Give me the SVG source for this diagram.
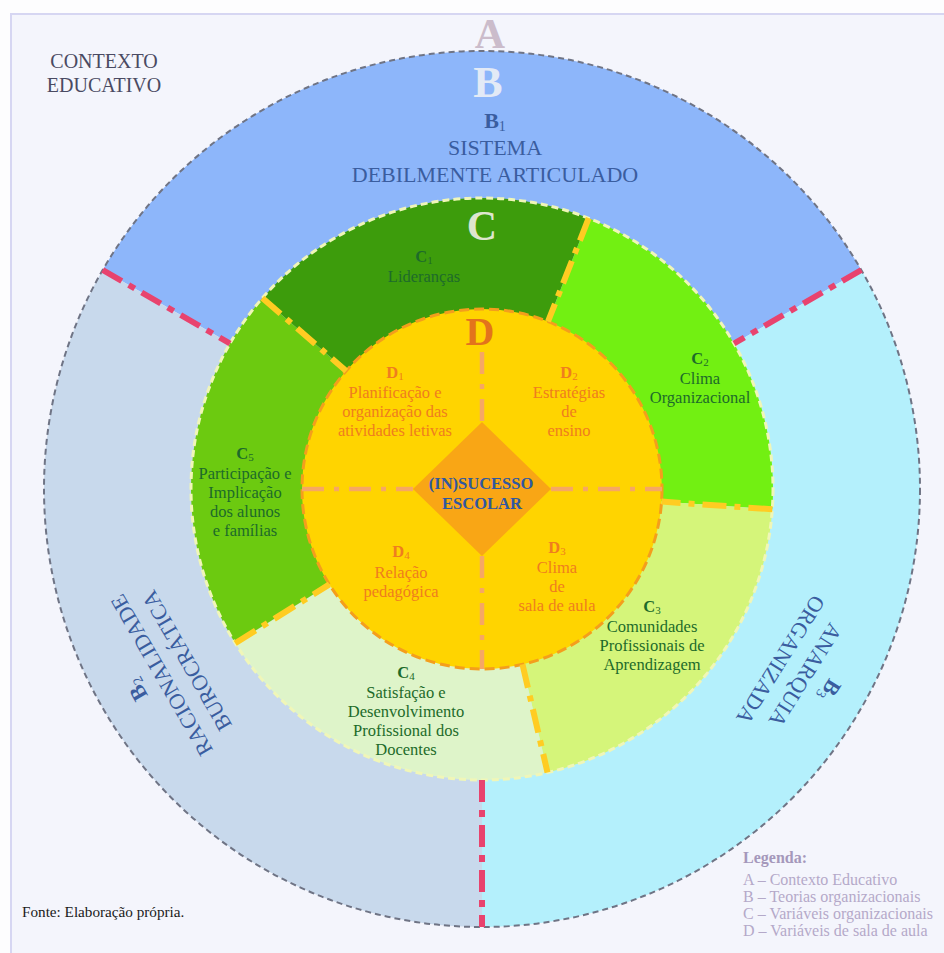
<svg xmlns="http://www.w3.org/2000/svg" width="944" height="953" viewBox="0 0 944 953">
  <style>
    text { font-family: "Liberation Serif", "Times New Roman", serif; }
    .mid { text-anchor: middle; }
    .b { font-weight: bold; }
    .big { font-weight: bold; text-anchor: middle; }
    .tb { fill: #3a5d9f; font-size: 22px; text-anchor: middle; }
    .tc { fill: #1d6b2a; font-size: 16.5px; text-anchor: middle; }
    .td { fill: #ef7d1f; font-size: 16.5px; text-anchor: middle; }
    .sub { font-size: 11px; }
    .subb { font-size: 14px; }
    .div-b { stroke: #e8436e; stroke-width: 6; stroke-dasharray: 22 8 7 8; fill: none; }
    .div-c { stroke: #ffcc22; stroke-width: 6; stroke-dasharray: 24 8 6 8; fill: none; }
    .div-d { stroke: #f6a764; stroke-width: 4.5; stroke-dasharray: 22 10 5 10; fill: none; }
    .legend { fill: #b4a9c9; font-size: 16px; }
  </style>

  <!-- page background and frame -->
  <rect x="0" y="0" width="944" height="953" fill="#fdfdfe"/>
  <g id="contexto-educativo">
    <rect x="11" y="14" width="945" height="950" fill="#f4f5fc" stroke="#d6d6f2" stroke-width="2"/>
    <text x="104" y="68" class="mid" fill="#4a4a62" font-size="20">CONTEXTO</text>
    <text x="104" y="92" class="mid" fill="#4a4a62" font-size="20">EDUCATIVO</text>
  </g>

  <!-- B ring: organisational theories -->
  <g id="B1">
    <path d="M482,489 L102.7,270 A438,438 0 0 1 861.3,270 Z" fill="#8db6fa"/>
    <text x="495" y="128" class="tb"><tspan class="b">B</tspan><tspan class="subb" dy="3">1</tspan></text>
    <text x="495" y="155" class="tb">SISTEMA</text>
    <text x="495" y="182" class="tb">DEBILMENTE ARTICULADO</text>
  </g>
  <g id="B3">
    <path d="M482,489 L861.3,270 A438,438 0 0 1 482,927 Z" fill="#b4f0fc"/>
    <g transform="translate(805,675) rotate(122)">
      <text x="0" y="-22" class="tb"><tspan class="b">B</tspan><tspan class="subb" dy="3">3</tspan></text>
      <text x="0" y="7" class="tb">ANARQUIA</text>
      <text x="0" y="36" class="tb">ORGANIZADA</text>
    </g>
  </g>
  <g id="B2">
    <path d="M482,489 L482,927 A438,438 0 0 1 102.7,270 Z" fill="#c8d9ec"/>
    <g transform="translate(162,675) rotate(-120)">
      <text x="0" y="-22" class="tb"><tspan class="b">B</tspan><tspan class="subb" dy="3">2</tspan></text>
      <text x="0" y="7" class="tb">RACIONALIDADE</text>
      <text x="0" y="36" class="tb">BUROCRÁTICA</text>
    </g>
  </g>
  <circle cx="482" cy="489" r="438" fill="none" stroke="#6f7485" stroke-width="2" stroke-dasharray="6 4"/>

  <!-- C ring: organisational variables -->
  <g id="C1">
    <path d="M482,489 L262.4,298.1 A291,291 0 0 1 588.7,218.2 Z" fill="#3d9c0c"/>
    <text x="424" y="262" class="tc"><tspan class="b">C</tspan><tspan class="sub" dy="2">1</tspan></text>
    <text x="424" y="282" class="tc">Lideranças</text>
  </g>
  <g id="C2">
    <path d="M482,489 L588.7,218.2 A291,291 0 0 1 772.3,509.3 Z" fill="#72f012"/>
    <text x="700" y="364" class="tc"><tspan class="b">C</tspan><tspan class="sub" dy="2">2</tspan></text>
    <text x="700" y="384" class="tc">Clima</text>
    <text x="700" y="403" class="tc">Organizacional</text>
  </g>
  <g id="C3">
    <path d="M482,489 L772.3,509.3 A291,291 0 0 1 547.5,772.5 Z" fill="#d5f57a"/>
    <text x="652" y="612" class="tc"><tspan class="b">C</tspan><tspan class="sub" dy="2">3</tspan></text>
    <text x="652" y="632" class="tc">Comunidades</text>
    <text x="652" y="651" class="tc">Profissionais de</text>
    <text x="652" y="670" class="tc">Aprendizagem</text>
  </g>
  <g id="C4">
    <path d="M482,489 L547.5,772.5 A291,291 0 0 1 235.2,643.2 Z" fill="#def4c9"/>
    <text x="406" y="678" class="tc"><tspan class="b">C</tspan><tspan class="sub" dy="2">4</tspan></text>
    <text x="406" y="698" class="tc">Satisfação e</text>
    <text x="406" y="717" class="tc">Desenvolvimento</text>
    <text x="406" y="736" class="tc">Profissional dos</text>
    <text x="406" y="755" class="tc">Docentes</text>
  </g>
  <g id="C5">
    <path d="M482,489 L235.2,643.2 A291,291 0 0 1 262.4,298.1 Z" fill="#6cca10"/>
    <text x="245" y="459" class="tc"><tspan class="b">C</tspan><tspan class="sub" dy="2">5</tspan></text>
    <text x="245" y="479" class="tc">Participação e</text>
    <text x="245" y="498" class="tc">Implicação</text>
    <text x="245" y="517" class="tc">dos alunos</text>
    <text x="245" y="536" class="tc">e famílias</text>
  </g>
  <circle cx="482" cy="489" r="291" fill="none" stroke="#f0f6b8" stroke-width="3" stroke-dasharray="7 4"/>

  <!-- D circle: classroom variables -->
  <g id="D">
    <circle cx="482" cy="489" r="180" fill="#ffd400" stroke="#f49e1c" stroke-width="3" stroke-dasharray="10 5"/>
  </g>
  <g id="D1">
    <text x="395" y="378" class="td"><tspan class="b">D</tspan><tspan class="sub" dy="2">1</tspan></text>
    <text x="395" y="398" class="td">Planificação e</text>
    <text x="395" y="417" class="td">organização das</text>
    <text x="395" y="436" class="td">atividades letivas</text>
  </g>
  <g id="D2">
    <text x="569" y="378" class="td"><tspan class="b">D</tspan><tspan class="sub" dy="2">2</tspan></text>
    <text x="569" y="398" class="td">Estratégias</text>
    <text x="569" y="417" class="td">de</text>
    <text x="569" y="436" class="td">ensino</text>
  </g>
  <g id="D3">
    <text x="557" y="553" class="td"><tspan class="b">D</tspan><tspan class="sub" dy="2">3</tspan></text>
    <text x="557" y="573" class="td">Clima</text>
    <text x="557" y="592" class="td">de</text>
    <text x="557" y="611" class="td">sala de aula</text>
  </g>
  <g id="D4">
    <text x="401" y="557" class="td"><tspan class="b">D</tspan><tspan class="sub" dy="2">4</tspan></text>
    <text x="401" y="578" class="td">Relação</text>
    <text x="401" y="597" class="td">pedagógica</text>
  </g>

  <!-- layer letters -->
  <g id="layer-letters">
    <text x="490" y="48" class="big" font-size="42" fill="#cbbccb">A</text>
    <text x="488" y="97" class="big" font-size="44" fill="#e3eaf6">B</text>
    <text x="482" y="240" class="big" font-size="42" fill="#dde6cf">C</text>
    <text x="480" y="345" class="big" font-size="40" fill="#e3731c">D</text>
  </g>

  <!-- dividers between sectors -->
  <g id="connectors">
    <line class="div-b" x1="102.7" y1="270" x2="230" y2="343.5"/>
    <line class="div-b" x1="861.3" y1="270" x2="734" y2="343.5"/>
    <line class="div-b" x1="482" y1="780" x2="482" y2="927"/>
    <line class="div-c" x1="262.4" y1="298.1" x2="346.2" y2="370.9"/>
    <line class="div-c" x1="588.7" y1="218.2" x2="548" y2="321.5"/>
    <line class="div-c" x1="772.3" y1="509.3" x2="661.6" y2="501.6"/>
    <line class="div-c" x1="522.5" y1="664.4" x2="547.5" y2="772.5"/>
    <line class="div-c" x1="235.2" y1="643.2" x2="329.4" y2="584.4"/>
    <line class="div-d" x1="302" y1="489" x2="413" y2="489"/>
    <line class="div-d" x1="551" y1="489" x2="662" y2="489"/>
    <line class="div-d" x1="482" y1="352" x2="482" y2="422"/>
    <line class="div-d" x1="482" y1="556" x2="482" y2="669"/>
  </g>

  <!-- centre: school (in)success -->
  <g id="insucesso-escolar">
    <polygon points="482,422 551,489 482,556 413,489" fill="#f9a615"/>
    <text x="481" y="489" class="mid b" fill="#3058a0" font-size="16.5">(IN)SUCESSO</text>
    <text x="482" y="509" class="mid b" fill="#3058a0" font-size="16.5">ESCOLAR</text>
  </g>

  <!-- source and legend -->
  <g id="fonte">
    <text x="22" y="917" fill="#1a1a1a" font-size="15.2">Fonte: Elaboração própria.</text>
  </g>
  <g id="legenda">
    <text x="743" y="863" class="b" fill="#a598bb" font-size="16">Legenda:</text>
    <text x="743" y="885" class="legend">A – Contexto Educativo</text>
    <text x="743" y="902" class="legend">B – Teorias organizacionais</text>
    <text x="743" y="919" class="legend">C – Variáveis organizacionais</text>
    <text x="743" y="936" class="legend">D – Variáveis de sala de aula</text>
  </g>
</svg>
